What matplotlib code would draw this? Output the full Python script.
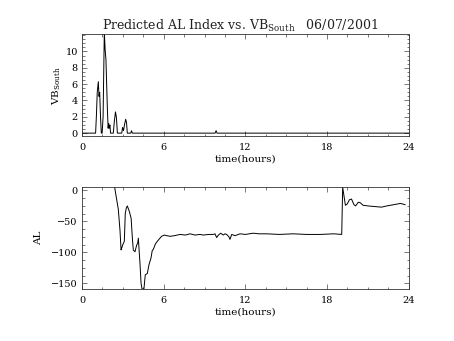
import matplotlib
matplotlib.use("Agg")
import matplotlib.pyplot as plt
from matplotlib.ticker import MultipleLocator

plt.rcParams["font.family"] = "DejaVu Serif"
plt.rcParams["mathtext.fontset"] = "dejavuserif"

# Southward IMF component (VB_South), hours since 00 UT
vb_time = [0.0, 1.00, 1.06, 1.12, 1.20, 1.25, 1.30, 1.36, 1.42, 1.48,
           1.55, 1.64, 1.70, 1.76, 1.82, 1.87, 1.92, 1.96, 2.00, 2.05,
           2.10, 2.30, 2.38, 2.46, 2.53, 2.60, 2.92, 2.98, 3.05, 3.12,
           3.21, 3.27, 3.33, 3.58, 3.64, 3.70, 9.78, 9.85, 9.92, 24.0]
vb_vals = [0, 0, 2.2, 5.0, 6.3, 4.5, 5.0, 2.0, 0, 0,
           2.0, 12.5, 10.2, 9.0, 5.5, 2.7, 0.6, 1.2, 0.6, 1.0,
           0, 0, 1.5, 2.6, 1.9, 0, 0, 0.7, 0.3, 1.0,
           1.7, 1.3, 0, 0, 0.3, 0, 0, 0.3, 0, 0]

# Predicted AL index
al_time = [2.40, 2.55, 2.67, 2.79, 2.87, 2.93, 2.99, 3.11, 3.18, 3.26,
           3.33, 3.48, 3.61, 3.70, 3.77, 3.89, 4.02, 4.09, 4.14, 4.26,
           4.34, 4.41, 4.55, 4.65, 4.80, 4.92, 5.07, 5.16, 5.24, 5.40,
           5.61, 5.85, 6.05, 6.22, 6.47, 6.80, 7.20, 7.60, 7.94, 8.30,
           8.67, 8.91, 9.30, 9.65, 9.77, 9.89, 10.02, 10.19, 10.38, 10.50,
           10.63, 10.80, 10.87, 10.95, 11.00, 11.24, 11.61, 12.00, 12.58, 13.00,
           13.57, 14.50, 15.50, 16.50, 17.50, 18.50, 19.08, 19.15, 19.22, 19.35,
           19.48, 19.65, 19.80, 19.98, 20.10, 20.30, 20.45, 20.65, 21.00, 21.50,
           22.00, 22.40, 22.90, 23.40, 23.73]
al_vals = [5, -15, -31, -64, -96, -92, -88, -82, -37, -28,
           -25, -34, -45, -77, -96, -99, -88, -85, -77, -118,
           -150, -159, -159, -136, -134, -120, -109, -97, -95, -86,
           -80, -74, -72, -73, -74, -73, -71, -72, -70, -72,
           -71, -72, -71, -71, -70, -76, -72, -69, -72, -70,
           -71, -75, -79, -74, -71, -73, -70, -71, -69, -70,
           -70, -71, -70, -71, -71, -70, -71, 5, -5, -24,
           -22, -15, -14, -23, -25, -19, -20, -24, -25, -26,
           -27, -25, -23, -21, -23]

x_ticks = [0, 6, 12, 18, 24]

fig = plt.figure(figsize=(4.54, 3.41), dpi=100)
ax1 = fig.add_axes([0.1806, 0.6012, 0.7196, 0.2982])
ax2 = fig.add_axes([0.1806, 0.1525, 0.7196, 0.2982])

line_kw = dict(color="black", linewidth=0.7)
ax1.plot(vb_time, vb_vals, **line_kw)
ax2.plot(al_time, al_vals, **line_kw)

for ax in (ax1, ax2):
    ax.set_xlim(0, 24)
    ax.set_xticks(x_ticks)
    ax.xaxis.set_minor_locator(MultipleLocator(1.5))
    ax.tick_params(which="both", direction="in", top=True, right=True,
                   labelsize=7, width=0.5, color="#444444", pad=3)
    ax.tick_params(axis="x", which="major", pad=5)
    ax.tick_params(which="major", length=3.5)
    ax.tick_params(which="minor", length=1.8)
    for s in ax.spines.values():
        s.set_linewidth(0.6)
        s.set_color("#333333")
    ax.set_xlabel("time(hours)", fontsize=7.5, labelpad=2)

ax1.set_ylim(-0.35, 12.1)
ax1.set_yticks([0, 2, 4, 6, 8, 10])
ax1.yaxis.set_minor_locator(MultipleLocator(0.5))
ax1.set_ylabel(r"VB$_{\mathrm{South}}$", fontsize=7.5, labelpad=2)

ax2.set_ylim(-159, 5)
ax2.set_yticks([0, -50, -100, -150])
ax2.yaxis.set_minor_locator(MultipleLocator(12.5))
ax2.set_ylabel("AL", fontsize=7.5, labelpad=6)

fig.text(0.530, 0.912,
         r"Predicted AL Index vs. VB$_{\mathrm{South}}$   06/07/2001",
         ha="center", va="baseline", fontsize=9, color="#222222")

fig.savefig("out.png", dpi=100)
